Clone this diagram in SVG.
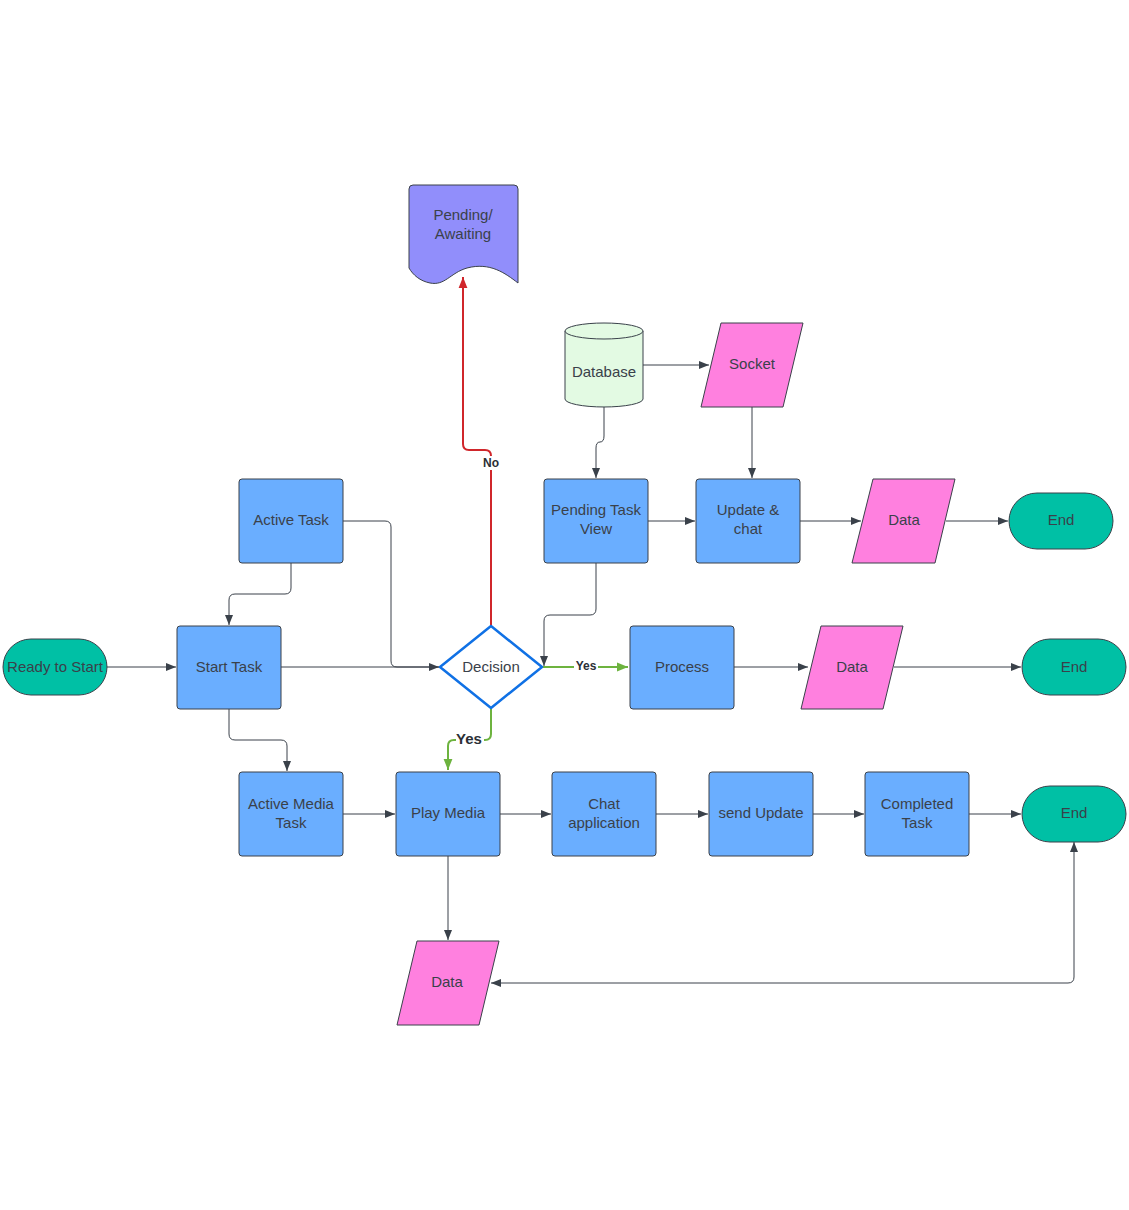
<svg xmlns="http://www.w3.org/2000/svg" width="1129" height="1210" viewBox="0 0 1129 1210">
<style>
.t{font-family:"Liberation Sans",Arial,sans-serif;font-size:15px;fill:#3A414A;text-anchor:middle;dominant-baseline:central}
.proc{fill:#6AAEFF;stroke:#3A414A;stroke-width:1}
.term{fill:#00C0A5;stroke:#3A414A;stroke-width:1}
.io{fill:#FF80DF;stroke:#3A414A;stroke-width:1;stroke-linejoin:round}
.c{fill:none;stroke:#3A414A;stroke-width:1}
.g{fill:none;stroke:#6DB33F;stroke-width:2}
.r{fill:none;stroke:#D0262B;stroke-width:2}
.lb{font-family:"Liberation Sans",Arial,sans-serif;font-weight:bold;fill:#2B2F36;text-anchor:middle;dominant-baseline:central}
</style>
<defs>
<marker id="a" viewBox="0 0 10 10" refX="10" refY="5" markerWidth="10" markerHeight="10" markerUnits="userSpaceOnUse" orient="auto-start-reverse"><path d="M0,1 L10,5 L0,9 Z" fill="#3A414A"/></marker>
<marker id="ag" viewBox="0 0 10 10" refX="10" refY="5" markerWidth="11" markerHeight="11" markerUnits="userSpaceOnUse" orient="auto"><path d="M0,1 L10,5 L0,9 Z" fill="#6DB33F"/></marker>
<marker id="ar" viewBox="0 0 10 10" refX="10" refY="5" markerWidth="11" markerHeight="11" markerUnits="userSpaceOnUse" orient="auto"><path d="M0,1 L10,5 L0,9 Z" fill="#D0262B"/></marker>
</defs>
<rect width="1129" height="1210" fill="#ffffff"/>
<g id="connectors">
<path class="c" d="M643,365 H709" marker-end="url(#a)"/>
<path class="c" d="M604,407 V436 Q604,442 600,442 Q596,442 596,448 V478" marker-end="url(#a)"/>
<path class="c" d="M752,407 V478" marker-end="url(#a)"/>
<path class="c" d="M648,521 H695" marker-end="url(#a)"/>
<path class="c" d="M800,521 H861" marker-end="url(#a)"/>
<path class="c" d="M946,521 H1008" marker-end="url(#a)"/>
<path class="c" d="M107,667 H176" marker-end="url(#a)"/>
<path class="c" d="M281,667 H439" marker-end="url(#a)"/>
<path class="c" d="M343,521 H385 Q391,521 391,527 V661 Q391,667 397,667 H439"/>
<path class="c" d="M291,563 V588 Q291,594 285,594 H235 Q229,594 229,600 V625" marker-end="url(#a)"/>
<path class="c" d="M229,709 V734 Q229,740 235,740 H281 Q287,740 287,746 V771" marker-end="url(#a)"/>
<path class="c" stroke="#9AA0A8" d="M596,563 V609 Q596,615 590,615 H550 Q544,615 544,621 V666" marker-end="url(#a)"/>
<path class="r" d="M491,626 V456 Q491,450 485,450 H469 Q463,450 463,444 V277" marker-end="url(#ar)"/>
<path class="g" d="M542,667 H628" marker-end="url(#ag)"/>
<path class="g" d="M491,708 V734 Q491,740 485,740 H454 Q448,740 448,746 V770" marker-end="url(#ag)"/>
<path class="c" d="M734,667 H808" marker-end="url(#a)"/>
<path class="c" d="M894,667 H1021" marker-end="url(#a)"/>
<path class="c" d="M343,814 H395" marker-end="url(#a)"/>
<path class="c" d="M500,814 H551" marker-end="url(#a)"/>
<path class="c" d="M656,814 H708" marker-end="url(#a)"/>
<path class="c" d="M813,814 H864" marker-end="url(#a)"/>
<path class="c" d="M969,814 H1021" marker-end="url(#a)"/>
<path class="c" d="M448,856 V940" marker-end="url(#a)"/>
<path class="c" d="M1074,842 V977 Q1074,983 1068,983 H491" marker-start="url(#a)" marker-end="url(#a)"/>
<rect x="480" y="456" width="22" height="14" fill="#ffffff"/>
<text class="lb" x="491" y="463" font-size="12">No</text>
<rect x="574" y="660" width="24" height="13" fill="#ffffff"/>
<text class="lb" x="586" y="666" font-size="12">Yes</text>
<rect x="456" y="730" width="28" height="17" fill="#ffffff"/>
<text class="lb" x="469" y="738" font-size="15">Yes</text>
</g>
<g id="pending-awaiting">
<path d="M413,185 H514 Q518,185 518,189 V283 C505,273 490,262 467,268 C450,273 445,286 430,283 C420,281 413,275 409,268 V189 Q409,185 413,185 Z" fill="#918EFB" stroke="#3A414A" stroke-width="1"/>
<text class="t" x="463" y="214">Pending/</text>
<text class="t" x="463" y="233">Awaiting</text>
</g>
<g id="database">
<path d="M565,331 V399 A39,8 0 0 0 643,399 V331" fill="#E3FAE3" stroke="#3A414A" stroke-width="1"/>
<ellipse cx="604" cy="331" rx="39" ry="8" fill="#E3FAE3" stroke="#3A414A" stroke-width="1"/>
<text class="t" x="604" y="371">Database</text>
</g>
<g id="socket">
<path class="io" d="M721,323 H803 L783,407 H701 Z"/>
<text class="t" x="752" y="363">Socket</text>
</g>
<g id="active-task">
<rect class="proc" x="239" y="479" width="104" height="84" rx="3"/>
<text class="t" x="291" y="519">Active Task</text>
</g>
<g id="pending-task-view">
<rect class="proc" x="544" y="479" width="104" height="84" rx="3"/>
<text class="t" x="596" y="509">Pending Task</text>
<text class="t" x="596" y="528">View</text>
</g>
<g id="update-chat">
<rect class="proc" x="696" y="479" width="104" height="84" rx="3"/>
<text class="t" x="748" y="509">Update &amp;</text>
<text class="t" x="748" y="528">chat</text>
</g>
<g id="data-1">
<path class="io" d="M873,479 H955 L935,563 H852 Z"/>
<text class="t" x="904" y="519">Data</text>
</g>
<g id="end-1">
<rect class="term" x="1009" y="493" width="104" height="56" rx="28"/>
<text class="t" x="1061" y="519">End</text>
</g>
<g id="ready-to-start">
<rect class="term" x="3" y="639" width="104" height="56" rx="28"/>
<text class="t" x="55" y="666">Ready to Start</text>
</g>
<g id="start-task">
<rect class="proc" x="177" y="626" width="104" height="83" rx="3"/>
<text class="t" x="229" y="666">Start Task</text>
</g>
<g id="decision">
<path d="M491,626 L542,667 L491,708 L440,667 Z" fill="#ffffff" stroke="#1071E5" stroke-width="2.5" stroke-linejoin="round"/>
<text class="t" x="491" y="666">Decision</text>
</g>
<g id="process">
<rect class="proc" x="630" y="626" width="104" height="83" rx="3"/>
<text class="t" x="682" y="666">Process</text>
</g>
<g id="data-2">
<path class="io" d="M821,626 H903 L883,709 H801 Z"/>
<text class="t" x="852" y="666">Data</text>
</g>
<g id="end-2">
<rect class="term" x="1022" y="639" width="104" height="56" rx="28"/>
<text class="t" x="1074" y="666">End</text>
</g>
<g id="active-media-task">
<rect class="proc" x="239" y="772" width="104" height="84" rx="3"/>
<text class="t" x="291" y="803">Active Media</text>
<text class="t" x="291" y="822">Task</text>
</g>
<g id="play-media">
<rect class="proc" x="396" y="772" width="104" height="84" rx="3"/>
<text class="t" x="448" y="812">Play Media</text>
</g>
<g id="chat-application">
<rect class="proc" x="552" y="772" width="104" height="84" rx="3"/>
<text class="t" x="604" y="803">Chat</text>
<text class="t" x="604" y="822">application</text>
</g>
<g id="send-update">
<rect class="proc" x="709" y="772" width="104" height="84" rx="3"/>
<text class="t" x="761" y="812">send Update</text>
</g>
<g id="completed-task">
<rect class="proc" x="865" y="772" width="104" height="84" rx="3"/>
<text class="t" x="917" y="803">Completed</text>
<text class="t" x="917" y="822">Task</text>
</g>
<g id="end-3">
<rect class="term" x="1022" y="786" width="104" height="56" rx="28"/>
<text class="t" x="1074" y="812">End</text>
</g>
<g id="data-3">
<path class="io" d="M417,941 H499 L479,1025 H397 Z"/>
<text class="t" x="447" y="981">Data</text>
</g>
</svg>
